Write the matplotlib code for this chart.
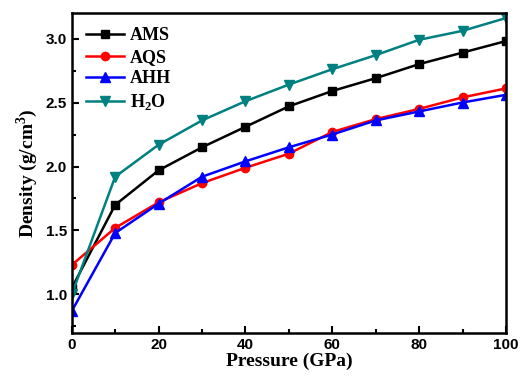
import matplotlib.pyplot as plt
from matplotlib.ticker import MultipleLocator

# Дані
pressure = [0, 10, 20, 30, 40, 50, 60, 70, 80, 90, 100]
ams = [1.05, 1.70, 1.97, 2.15, 2.31, 2.47, 2.59, 2.69, 2.80, 2.89, 2.98]
aqs = [1.23, 1.52, 1.72, 1.87, 1.99, 2.10, 2.27, 2.37, 2.45, 2.54, 2.61]
ahh = [0.87, 1.48, 1.71, 1.92, 2.04, 2.15, 2.25, 2.36, 2.43, 2.50, 2.56]
h2o = [1.00, 1.92, 2.17, 2.36, 2.51, 2.64, 2.76, 2.87, 2.99, 3.06, 3.16]

plt.rcParams['mathtext.fontset'] = 'custom'
plt.rcParams['mathtext.rm'] = 'Liberation Serif:bold'
plt.rcParams['mathtext.bf'] = 'Liberation Serif:bold'

fig = plt.figure(figsize=(5.2, 3.8), dpi=100)
ax = fig.add_axes([0.138, 0.124, 0.835, 0.842])

ax.plot(pressure, ams, color='black', marker='s', markersize=5.5, lw=1.8, label='AMS')
ax.plot(pressure, aqs, color='red', marker='o', markersize=6, lw=1.8, label='AQS')
ax.plot(pressure, ahh, color='blue', marker='^', markersize=6.5, lw=1.8, label='AHH')
ax.plot(pressure, h2o, color='#008080', marker='v', markersize=6.5, lw=1.8, label='H$_\\mathbf{2}$O')

ax.set_xlim(0, 100)
ax.set_ylim(0.7, 3.2)
ax.xaxis.set_major_locator(MultipleLocator(20))
ax.xaxis.set_minor_locator(MultipleLocator(10))
ax.yaxis.set_major_locator(MultipleLocator(0.5))
ax.yaxis.set_minor_locator(MultipleLocator(0.25))
ax.tick_params(which='both', direction='in', width=1.5)
ax.tick_params(which='major', length=5)
ax.tick_params(which='minor', length=3)
for lab in ax.get_xticklabels() + ax.get_yticklabels():
    lab.set_family('Liberation Sans')
    lab.set_fontweight('bold')
    lab.set_fontsize(11)
for s in ax.spines.values():
    s.set_linewidth(1.8)

ax.set_xlabel('Pressure (GPa)', family='Liberation Serif', fontweight='bold', fontsize=14, labelpad=1)
ax.set_ylabel('Density (g/cm$^\\mathbf{3}$)', family='Liberation Serif', fontweight='bold', fontsize=14, labelpad=4)

ax.legend(loc='upper left', frameon=False, prop={'family': 'Liberation Serif', 'weight': 'bold', 'size': 13},
          handlelength=2.1, handletextpad=0.3, labelspacing=0.25, borderaxespad=0.4)

fig.savefig('out.png', dpi=100)
